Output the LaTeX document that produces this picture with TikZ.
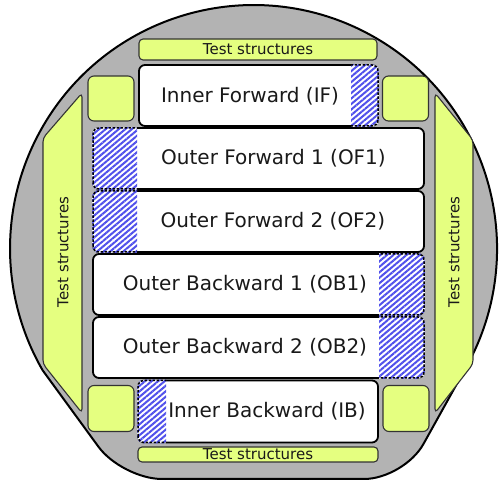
\documentclass[tikz,border=0pt]{standalone}
\usepackage{fontspec}
\setmainfont{DejaVu Sans}
\usetikzlibrary{patterns.meta}

\definecolor{waferGray}{RGB}{179,179,179}
\definecolor{tsYellow}{RGB}{229,255,128}
\definecolor{hatchBlue}{RGB}{80,80,235}

\begin{document}
\begin{tikzpicture}[x=1pt,y=-1pt,
    wafer/.style={draw=black, line width=2pt, fill=waferGray},
    sensor/.style={draw=black, line width=1.8pt, fill=white, rounded corners=6pt, inner sep=0pt, outer sep=0pt},
    teststr/.style={draw=black!80, line width=1.1pt, fill=tsYellow, rounded corners=4pt, inner sep=0pt, outer sep=0pt},
    hatched/.style={pattern={Lines[angle=40,distance=4.2pt,line width=2pt]}, pattern color=hatchBlue},
    hatchedge/.style={draw=black, line width=1.5pt, dash pattern=on 2.5pt off 1.5pt, rounded corners=6pt},
    sensortext/.style={font=\fontsize{20}{24}\selectfont, text=black!90},
    tstext/.style={font=\fontsize{15}{18}\selectfont, text=black!90}]
    \useasboundingbox (0,0) rectangle (499,481);

    % wafer with flat
    \draw[wafer] (464.4,370.3) arc[start angle=30, end angle=-210, radius=243.5]
        [rounded corners=40pt] -- (122,479) -- (404,479) [sharp corners] -- cycle;

    % test structures
    \node[teststr, minimum width=238pt, minimum height=21pt] (ts-top) at (258,49.5) {};
    \node[tstext] (ts-top-text) at (258,49.5) {Test structures};
    \node[teststr, minimum width=240pt, minimum height=15pt] (ts-bot) at (258,454.5) {};
    \node[tstext] (ts-bot-text) at (258,454.5) {Test structures};
    \draw[teststr] (43,138) -- (82,93) -- (82,413) -- (43,364) -- cycle;
    \node[tstext, rotate=90] (ts-left-text) at (63,252) {Test structures};
    \draw[teststr] (435,93) -- (473,140) -- (473,364) -- (435,413) -- cycle;
    \node[tstext, rotate=90] (ts-right-text) at (454,252) {Test structures};

    \node[teststr, rounded corners=6pt, minimum width=46pt, minimum height=45pt] (sq-tl) at (111,98.5) {};
    \node[teststr, rounded corners=6pt, minimum width=46pt, minimum height=45pt] (sq-tr) at (405.5,98.5) {};
    \node[teststr, rounded corners=6pt, minimum width=46pt, minimum height=46pt] (sq-bl) at (111,408.5) {};
    \node[teststr, rounded corners=6pt, minimum width=46pt, minimum height=46pt] (sq-br) at (406,408.5) {};

    % sensors
    \node[sensor, minimum width=239pt, minimum height=61pt] (IF) at (258.5,95.5) {};
    \node[sensor, minimum width=331pt, minimum height=61pt] (OF1) at (258.5,158.5) {};
    \node[sensor, minimum width=331pt, minimum height=61pt] (OF2) at (258.5,221.5) {};
    \node[sensor, minimum width=331pt, minimum height=61pt] (OB1) at (258.5,284.5) {};
    \node[sensor, minimum width=331pt, minimum height=61pt] (OB2) at (258.5,347.5) {};
    \node[sensor, minimum width=240pt, minimum height=62pt] (IB) at (258,411.5) {};

    % hatched parts
    \foreach \s/\xa/\xb in {IF/351/380, OF1/91/137, OF2/91/137, OB1/379/426, OB2/379/426, IB/136/166} {
        \begin{scope}
            \clip (\xa,0) rectangle (\xb,481);
            \clip[rounded corners=6.9pt] ([xshift=-0.9pt,yshift=-0.9pt]\s.south west) rectangle ([xshift=0.9pt,yshift=0.9pt]\s.north east);
            \fill[white] (\xa,0) rectangle (\xb,481);
            \fill[hatched] (\xa,0) rectangle (\xb,481);
        \end{scope}
        \begin{scope}
            \clip (\xa,0) rectangle (\xb,481);
            \draw[hatchedge] (\s.south west) rectangle (\s.north east);
        \end{scope}
    }

    \node[sensortext] (IF-text) at (250,96) {Inner Forward (IF)};
    \node[sensortext] (OF1-text) at (273.5,158) {Outer Forward 1 (OF1)};
    \node[sensortext] (OF2-text) at (273,221) {Outer Forward 2 (OF2)};
    \node[sensortext] (OB1-text) at (245,284) {Outer Backward 1 (OB1)};
    \node[sensortext] (OB2-text) at (245,347) {Outer Backward 2 (OB2)};
    \node[sensortext] (IB-text) at (267,411) {Inner Backward (IB)};
\end{tikzpicture}
\end{document}
